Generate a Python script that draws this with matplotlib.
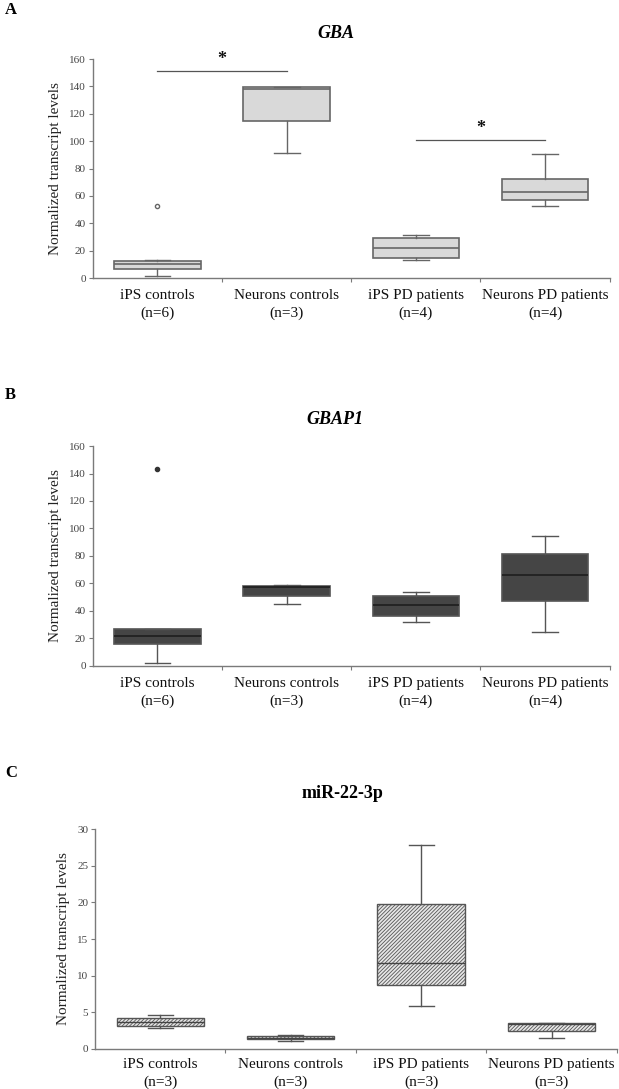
import numpy as np
import matplotlib
matplotlib.use("Agg")
import matplotlib.pyplot as plt

plt.rcParams['font.family'] = ['Liberation Serif', 'DejaVu Serif']
plt.rcParams['hatch.linewidth'] = 0.6

groups = ['iPS controls', 'Neurons controls', 'iPS PD patients', 'Neurons PD patients']

# Panel A - GBA
gba_n = [6, 3, 4, 4]
gba_whislo = [1.3, 91.2, 13.4, 52.3]
gba_q1 = [6.6, 114.6, 14.8, 56.9]
gba_med = [10.2, 138.0, 21.7, 62.8]
gba_q3 = [12.8, 139.2, 29.2, 72.5]
gba_whishi = [13.0, 139.5, 31.2, 90.5]
gba_fliers = [[52.5], [], [], []]

# Panel B - GBAP1
gbap1_n = [6, 3, 4, 4]
gbap1_whislo = [2.2, 45.2, 31.6, 24.8]
gbap1_q1 = [15.8, 51.0, 36.2, 47.1]
gbap1_med = [21.4, 57.0, 44.0, 65.8]
gbap1_q3 = [26.5, 58.0, 50.8, 81.1]
gbap1_whishi = [27.0, 58.5, 53.9, 94.2]
gbap1_fliers = [[143.0], [], [], []]

# Panel C - miR-22-3p
mir_n = [3, 3, 3, 3]
mir_whislo = [2.83, 1.0, 5.9, 1.46]
mir_q1 = [3.15, 1.33, 8.75, 2.42]
mir_med = [3.65, 1.5, 11.7, 3.35]
mir_q3 = [4.2, 1.78, 19.8, 3.47]
mir_whishi = [4.65, 1.85, 27.8, 3.5]
mir_fliers = [[], [], [], []]

# significance bars in A (group index pairs, height)
sig_pairs = [(0, 1), (2, 3)]
sig_heights = [151.4, 101.2]

W, H = 619, 1089
fig = plt.figure(figsize=(W / 100, H / 100), dpi=100)

axis_grey = '#7a7a7a'


def make_stats(whislo, q1, med, q3, whishi, fliers):
    return [dict(whislo=a, q1=b, med=c, q3=d, whishi=e, fliers=f)
            for a, b, c, d, e, f in zip(whislo, q1, med, q3, whishi, fliers)]


def setup_axes(rect, ymax, ystep, n, pad=8):
    ax = fig.add_axes(rect)
    ax.set_xlim(0.5, 4.5)
    ax.set_ylim(0, ymax)
    ax.set_yticks(np.arange(0, ymax + 0.1, ystep))
    ax.spines['top'].set_visible(False)
    ax.spines['right'].set_visible(False)
    for s in ['left', 'bottom']:
        ax.spines[s].set_color(axis_grey)
        ax.spines[s].set_linewidth(1.0)
    ax.tick_params(axis='y', labelsize=8, colors=axis_grey, labelcolor='#444444',
                   length=3, width=0.8, pad=2)
    ax.set_xticks([1, 2, 3, 4])
    ax.set_xticklabels([f'{g}\n(n={k})' for g, k in zip(groups, n)],
                       fontsize=11, linespacing=1.45)
    ax.set_xticks([1.5, 2.5, 3.5, 4.5], minor=True)
    ax.tick_params(axis='x', which='major', length=0, pad=pad, labelcolor='#111111')
    ax.tick_params(axis='x', which='minor', length=3, width=0.8, colors=axis_grey)
    ax.set_ylabel('Normalized transcript levels', fontsize=11, labelpad=5, color='#222222')
    return ax


# ---- A
axA = setup_axes([0.150, 0.7447, 0.835, 0.2011], 160, 20, gba_n)
axA.bxp(make_stats(gba_whislo, gba_q1, gba_med, gba_q3, gba_whishi, gba_fliers),
        positions=[1, 2, 3, 4], widths=0.67, patch_artist=True, showfliers=True,
        manage_ticks=False,
        boxprops=dict(facecolor='#d9d9d9', edgecolor='#666666', linewidth=1.2),
        medianprops=dict(color='#666666', linewidth=1.2),
        whiskerprops=dict(color='#666666', linewidth=1.0),
        capprops=dict(color='#666666', linewidth=1.0),
        capwidths=0.2,
        flierprops=dict(marker='o', markersize=3, markerfacecolor='none',
                        markeredgecolor='#666666', markeredgewidth=1.0))
for (i, j), h in zip(sig_pairs, sig_heights):
    axA.plot([i + 1, j + 1], [h, h], color='#555555', linewidth=0.9, clip_on=False)
    axA.text((i + j) / 2 + 1, h + 2, '*', ha='center', va='bottom',
             fontsize=13, fontweight='bold', color='#111111')
fig.text(336 / W, 1 - 33 / H, 'GBA', ha='center', va='center', fontsize=13,
         fontweight='bold', fontstyle='italic')
fig.text(5 / W, 1 - 10 / H, 'A', ha='left', va='center', fontsize=12, fontweight='bold')

# ---- B
axB = setup_axes([0.150, 0.3887, 0.835, 0.2017], 160, 20, gbap1_n)
axB.bxp(make_stats(gbap1_whislo, gbap1_q1, gbap1_med, gbap1_q3, gbap1_whishi, gbap1_fliers),
        positions=[1, 2, 3, 4], widths=0.67, patch_artist=True, showfliers=True,
        manage_ticks=False,
        boxprops=dict(facecolor='#454545', edgecolor='#555555', linewidth=1.2),
        medianprops=dict(color='#1e1e1e', linewidth=1.2),
        whiskerprops=dict(color='#555555', linewidth=1.0),
        capprops=dict(color='#555555', linewidth=1.0),
        capwidths=0.2,
        flierprops=dict(marker='o', markersize=3, markerfacecolor='#333333',
                        markeredgecolor='#333333'))
fig.text(335 / W, 1 - 420 / H, 'GBAP1', ha='center', va='center', fontsize=13,
         fontweight='bold', fontstyle='italic')
fig.text(5 / W, 1 - 395 / H, 'B', ha='left', va='center', fontsize=12, fontweight='bold')

# ---- C
axC = setup_axes([0.1535, 0.0370, 0.843, 0.2014], 30, 5, mir_n, pad=6.5)
axC.bxp(make_stats(mir_whislo, mir_q1, mir_med, mir_q3, mir_whishi, mir_fliers),
        positions=[1, 2, 3, 4], widths=0.67, patch_artist=True, showfliers=False,
        manage_ticks=False,
        boxprops=dict(facecolor='#e6e6e6', edgecolor='#555555', linewidth=1.0,
                      hatch='/////////'),
        medianprops=dict(color='#444444', linewidth=1.0),
        whiskerprops=dict(color='#555555', linewidth=1.0),
        capprops=dict(color='#555555', linewidth=1.0),
        capwidths=0.19)
fig.text(342 / W, 1 - 793 / H, 'miR-22-3p', ha='center', va='center', fontsize=13,
         fontweight='bold')
fig.text(5 / W, 1 - 773 / H, 'C', ha='left', va='center', fontsize=12, fontweight='bold')

fig.savefig('out.png', dpi=100)
